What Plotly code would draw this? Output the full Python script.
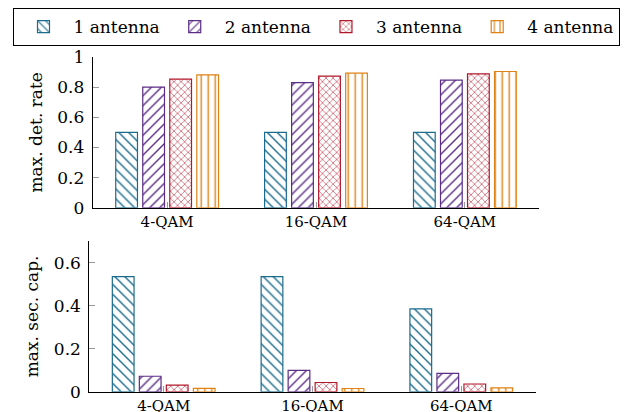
import plotly.graph_objects as go

categories = ["4-QAM", "16-QAM", "64-QAM"]
series_names = ["1 antenna", "2 antenna", "3 antenna", "4 antenna"]
det_rate = [
    [0.50, 0.50, 0.50],
    [0.80, 0.83, 0.846],
    [0.852, 0.872, 0.888],
    [0.881, 0.892, 0.903],
]
sec_cap = [
    [0.535, 0.535, 0.385],
    [0.072, 0.099, 0.085],
    [0.031, 0.043, 0.036],
    [0.016, 0.015, 0.018],
]
colors = ["#1b6b8c", "#5b2d86", "#b2182b", "#e08214"]
patterns = ["\\", "/", "x", "|"]
pattern_sizes = [7, 7, 5, 7]
det_ticks = [0, 0.2, 0.4, 0.6, 0.8, 1]
det_ticklabels = ["0", "0.2", "0.4", "0.6", "0.8", "1"]
sec_ticks = [0, 0.2, 0.4, 0.6]
sec_ticklabels = ["0", "0.2", "0.4", "0.6"]

FONT = "DejaVu Serif"
fig = go.Figure()

for i, name in enumerate(series_names):
    for vals, ax, show in ((det_rate[i], ("x", "y"), True), (sec_cap[i], ("x2", "y2"), False)):
        fig.add_trace(go.Bar(
            x=categories, y=vals, name=name, legendgroup=name, showlegend=show,
            xaxis=ax[0], yaxis=ax[1],
            marker=dict(color="white", line=dict(color=colors[i], width=1.2),
                        pattern=dict(shape=patterns[i], fgcolor=colors[i], bgcolor="white",
                                     fgopacity=1, size=pattern_sizes[i], solidity=0.2,
                                     fillmode="overlay")),
        ))

# the page body has an 8px margin, so the figure is 8px smaller and offsets subtract 8
OFF = 8
W, H = 632 - OFF, 412 - OFF


def px_x(v):
    return (v - OFF) / W


def px_y(v):
    return 1 - (v - OFF) / H


axis_common = dict(showline=True, linecolor="black", linewidth=1, showgrid=False, zeroline=False,
                   ticks="inside", ticklen=6, tickcolor="#999999", automargin=False,
                   tickfont=dict(family=FONT, size=17, color="black"))
xtickfont = dict(family=FONT, size=15, color="black")

fig.update_layout(
    width=W, height=H,
    margin=dict(l=0, r=0, t=0, b=0),
    paper_bgcolor="white", plot_bgcolor="white",
    barmode="group", bargap=0.274, bargroupgap=0.196,
    font=dict(family=FONT, size=17, color="black"),
    legend=dict(orientation="h", x=px_x(316), xanchor="center", y=px_y(7), yanchor="top",
                bordercolor="black", borderwidth=1, font=dict(family=FONT, size=17, color="black"),
                itemwidth=50, traceorder="normal"),
    xaxis=dict(domain=[px_x(92.7), px_x(539.3)], range=[-0.5, 2.5], anchor="y",
               **{**axis_common, "tickfont": xtickfont}),
    yaxis=dict(domain=[px_y(207.3), px_y(56)], range=[0, 1], anchor="x",
               tickvals=det_ticks, ticktext=det_ticklabels, ticklabelstandoff=4,
               title=dict(text="max. det. rate", font=dict(family=FONT, size=17), standoff=10),
               **axis_common),
    xaxis2=dict(domain=[px_x(89.3), px_x(535.7)], range=[-0.5, 2.5], anchor="y2",
                **{**axis_common, "tickfont": xtickfont}),
    yaxis2=dict(domain=[px_y(391.7), px_y(240.7)], range=[0, 0.7], anchor="x2",
                tickvals=sec_ticks, ticktext=sec_ticklabels, ticklabelstandoff=4,
                title=dict(text="max. sec. cap.", font=dict(family=FONT, size=17), standoff=10),
                **axis_common),
)

fig.write_html("out.html")
